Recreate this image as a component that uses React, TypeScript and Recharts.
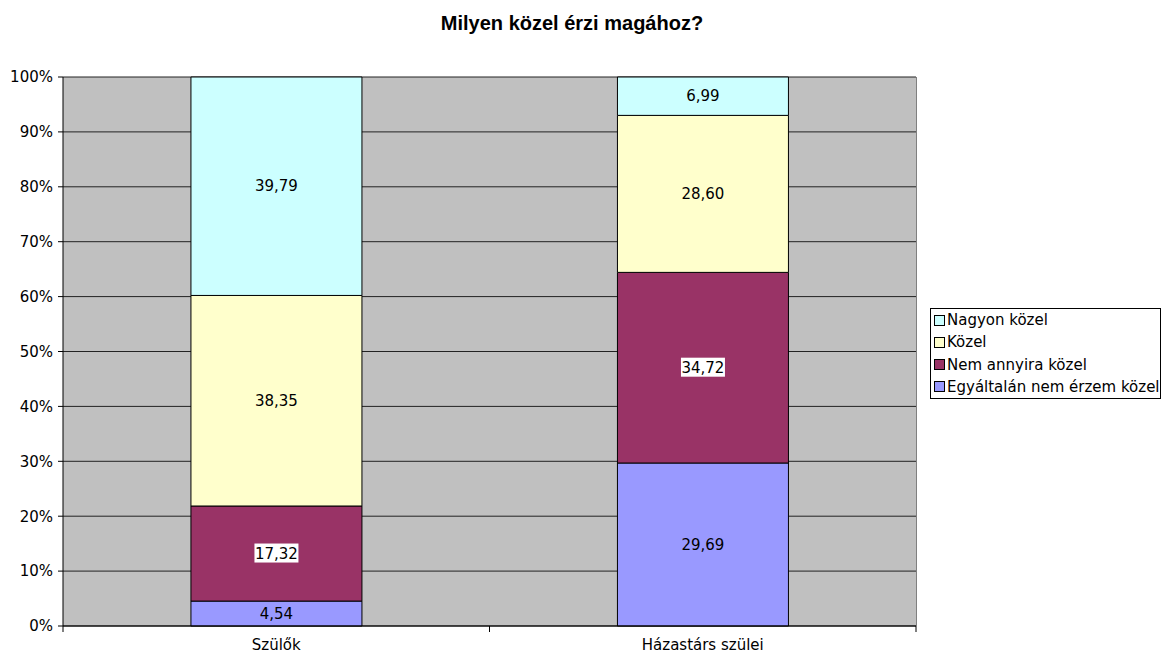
import React from "react";
import {
  BarChart,
  Bar,
  XAxis,
  YAxis,
  CartesianGrid,
  LabelList,
} from "recharts";

const categories = ["Szülők", "Házastárs szülei"];

// stack order bottom -> top
const egyaltalan = [4.54, 29.69];
const nemAnnyira = [17.32, 34.72];
const kozel = [38.35, 28.6];
const nagyon = [39.79, 6.99];

const yTicks = [0, 10, 20, 30, 40, 50, 60, 70, 80, 90, 100];

const SERIES = [
  { key: "egyaltalan", name: "Egyáltalán nem érzem közel", color: "#9999FF", values: egyaltalan, boxed: false },
  { key: "nemAnnyira", name: "Nem annyira közel", color: "#993366", values: nemAnnyira, boxed: true },
  { key: "kozel", name: "Közel", color: "#FFFFCC", values: kozel, boxed: false },
  { key: "nagyon", name: "Nagyon közel", color: "#CCFFFF", values: nagyon, boxed: false },
];

const data = categories.map((name, i) => {
  const row: Record<string, any> = { name };
  SERIES.forEach((s) => (row[s.key] = s.values[i]));
  return row;
});

const TITLE_FONT = "'Liberation Sans', Arial, sans-serif";
const FONT = "'DejaVu Sans', sans-serif";
const FS = 15;
const fmt = (v: number) => v.toFixed(2).replace(".", ",");

function SegmentLabel(boxed: boolean) {
  return (props: any) => {
    const { x, y, width, height, value } = props;
    const cx = x + width / 2;
    const cy = y + height / 2;
    const text = fmt(Number(value));
    return (
      <g>
        {boxed && <rect x={cx - 22} y={cy - 10} width={44} height={19} fill="#fff" />}
        <text
          x={cx}
          y={cy}
          textAnchor="middle"
          dominantBaseline="central"
          fontSize={FS}
          fontFamily={FONT}
          fill="#000"
        >
          {text}
        </text>
      </g>
    );
  };
}

const XTick = (props: any) => {
  const { x, y, payload } = props;
  const half = 853 / 4;
  return (
    <g>
      <line x1={x - half} y1={y - 8} x2={x - half} y2={y - 2} stroke="#000" />
      <line x1={x + half} y1={y - 8} x2={x + half} y2={y - 2} stroke="#000" />
      <text x={x} y={y + 16} textAnchor="middle" fontSize={FS} fontFamily={FONT} fill="#000">
        {payload.value}
      </text>
    </g>
  );
};

export default function App() {
  return (
    <div
      style={{
        position: "absolute",
        left: 0,
        top: 0,
        width: 1161,
        height: 653,
        background: "#fff",
        fontFamily: FONT,
      }}
    >
      <div
        style={{
          position: "absolute",
          top: 11,
          left: 0,
          width: 1144,
          textAlign: "center",
          fontWeight: "bold",
          fontSize: 20,
          lineHeight: "24px",
          fontFamily: TITLE_FONT,
        }}
      >
        Milyen közel érzi magához?
      </div>
      <BarChart
        width={1161}
        height={653}
        data={data}
        margin={{ top: 77, right: 245, bottom: 5, left: 8 }}
        barCategoryGap="30%"
      >
        <CartesianGrid
          horizontal
          vertical={false}
          stroke="#222"
          fill="#C0C0C0"
          fillOpacity={1}
        />
        <XAxis
          dataKey="name"
          height={22}
          axisLine={{ stroke: "#000" }}
          tickLine={false}
          tick={<XTick />}
          interval={0}
        />
        <YAxis
          width={55}
          domain={[0, 100]}
          ticks={yTicks}
          interval={0}
          tickFormatter={(v) => `${v}%`}
          axisLine={{ stroke: "#000" }}
          tickLine={{ stroke: "#000" }}
          tickSize={5}
          tickMargin={5}
          tick={{ fill: "#000", fontSize: FS, fontFamily: FONT }}
        />
        {SERIES.map((s) => (
          <Bar
            key={s.key}
            dataKey={s.key}
            name={s.name}
            stackId="a"
            fill={s.color}
            stroke="#000"
            strokeWidth={1}
            isAnimationActive={false}
          >
            <LabelList dataKey={s.key} content={SegmentLabel(s.boxed)} />
          </Bar>
        ))}
      </BarChart>
      <div
        style={{
          position: "absolute",
          left: 916,
          top: 77,
          width: 1,
          height: 549,
          background: "#808080",
        }}
      />
      <div
        style={{
          position: "absolute",
          left: 930,
          top: 308,
          width: 229,
          height: 89,
          border: "1px solid #000",
          fontSize: FS,
          lineHeight: "18px",
          boxSizing: "content-box",
        }}
      >
        {[...SERIES].reverse().map((s, i) => (
          <div
            key={s.key}
            style={{
              position: "absolute",
              left: 3,
              top: 2 + i * 22.3,
              display: "flex",
              alignItems: "center",
              whiteSpace: "nowrap",
            }}
          >
            <span
              style={{
                display: "inline-block",
                width: 9,
                height: 9,
                border: "1px solid #000",
                background: s.color,
                marginRight: 2,
              }}
            />
            {s.name}
          </div>
        ))}
      </div>
    </div>
  );
}
